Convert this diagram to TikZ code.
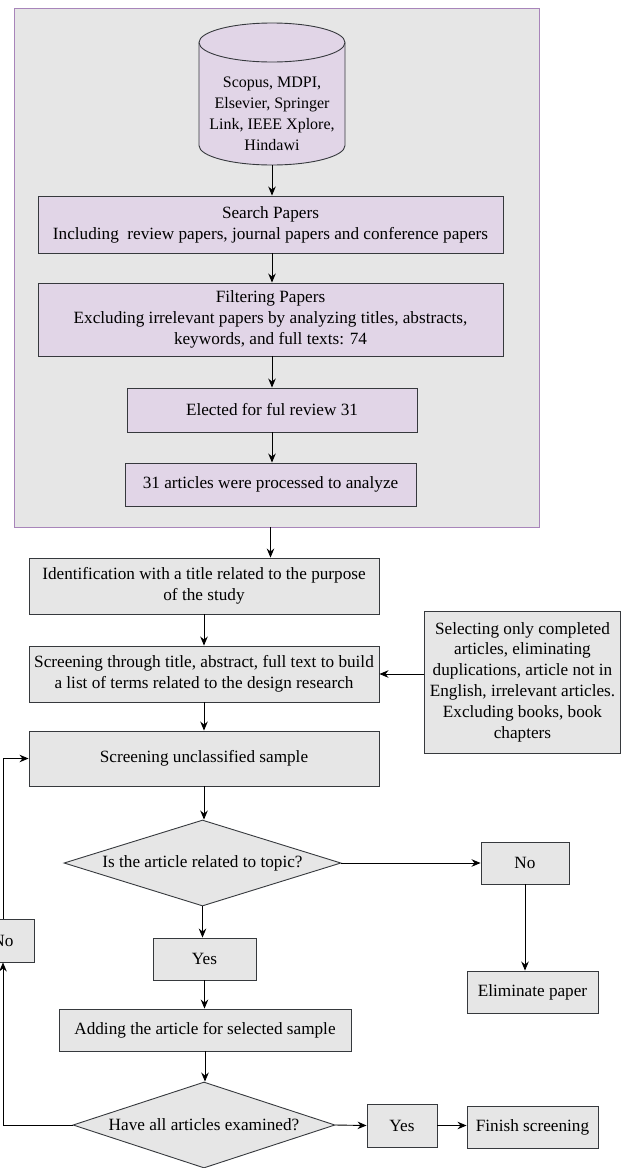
\documentclass[tikz,border=0pt]{standalone}
\usepackage{fontspec}
\setmainfont{Liberation Serif}
\usetikzlibrary{shapes.geometric,arrows.meta,calc}
\definecolor{purp}{HTML}{E1D5E7}
\definecolor{purpline}{HTML}{A885BA}
\definecolor{grayfill}{HTML}{E6E6E6}
\definecolor{boxline}{HTML}{36393D}
\tikzset{
  base/.style={draw=boxline, line width=0.9pt, align=center, inner sep=1pt, font=\fontsize{17.2}{21}\selectfont},
  pbox/.style={base, fill=purp, rectangle},
  gbox/.style={base, fill=grayfill, rectangle},
  dbox/.style={base, fill=grayfill, diamond, aspect=3.2, inner sep=0pt},
  arr/.style={draw=black, line width=0.9pt, -{Stealth[length=9pt,width=7.5pt]}}
}
\begin{document}
\begin{tikzpicture}[x=1pt,y=1pt]
\useasboundingbox (0,0) rectangle (621,-1168);
% outer group
\node[draw=purpline, fill=grayfill, line width=0.9pt, minimum width=525, minimum height=519, inner sep=0pt] (group) at (276.5,-267.5) {};
% cylinder
\fill[purp] (199,-42.5) -- (199,-145.5) arc[start angle=180, end angle=360, x radius=73pt, y radius=19.5pt] -- (345,-42.5) arc[start angle=0, end angle=180, x radius=73pt, y radius=19.5pt] -- cycle;
\draw[boxline, line width=0.9pt] (199,-42.5) -- (199,-145.5) arc[start angle=180, end angle=360, x radius=73pt, y radius=19.5pt] -- (345,-42.5) arc[start angle=0, end angle=180, x radius=73pt, y radius=19.5pt] -- cycle;
\draw[boxline, line width=0.9pt] (199,-42.5) arc[start angle=180, end angle=360, x radius=73pt, y radius=19.5pt];
\node[align=center, font=\fontsize{16}{21}\selectfont, inner sep=0pt] (cyl) at (272,-114) {Scopus, MDPI,\\Elsevier, Springer\\Link, IEEE Xplore,\\Hindawi};
\coordinate (cylbot) at (272,-165);
% purple boxes
\node[pbox, minimum width=465, minimum height=57] (search) at (270.5,-224.5) {Search Papers\\Including\ \ review papers, journal papers and conference papers};
\node[pbox, minimum width=465, minimum height=73] (filter) at (270.5,-319.5) {Filtering Papers\\Excluding irrelevant papers by analyzing titles, abstracts,\\keywords, and full texts: 74};
\node[pbox, minimum width=290, minimum height=44] (elected) at (272,-410) {Elected for ful review 31};
\node[pbox, minimum width=291, minimum height=43] (processed) at (270.5,-484.5) {31 articles were processed to analyze};
% gray boxes
\node[gbox, minimum width=350, minimum height=56] (ident) at (204,-586) {Identification with a title related to the purpose\\of the study};
\node[gbox, minimum width=350, minimum height=56] (screen1) at (204,-674) {Screening through title, abstract, full text to build\\a list of terms related to the design research};
\node[gbox, minimum width=196, minimum height=142, font=\fontsize{17.2}{20.8}\selectfont] (select) at (522.5,-682) {Selecting only completed\\articles, eliminating\\duplications, article not in\\English, irrelevant articles.\\Excluding books, book\\chapters};
\node[gbox, minimum width=350, minimum height=55] (screen2) at (204,-758.5) {Screening unclassified sample};
\node[dbox, minimum width=277, minimum height=86] (dia1) at (202.5,-863) {Is the article related to topic?};
\node[gbox, minimum width=88, minimum height=42] (no1) at (525,-863) {No};
\node[gbox, minimum width=131, minimum height=42] (elim) at (532.5,-992) {Eliminate paper};
\node[gbox, minimum width=103, minimum height=42] (yes1) at (204.5,-959) {Yes};
\node[gbox, minimum width=292, minimum height=42] (add) at (205,-1030) {Adding the article for selected sample};
\node[dbox, minimum width=262, minimum height=86] (dia2) at (204,-1125) {Have all articles examined?};
\node[gbox, minimum width=70, minimum height=43] (yes2) at (402,-1125.5) {Yes};
\node[gbox, minimum width=131, minimum height=42] (finish) at (532.5,-1127) {Finish screening};
\node[gbox, minimum width=62, minimum height=43] (no2) at (3,-940.5) {No};
% arrows
\draw[arr] (cylbot) -- (cylbot |- search.north);
\draw[arr] (cylbot |- search.south) -- (cylbot |- filter.north);
\draw[arr] (cylbot |- filter.south) -- (cylbot |- elected.north);
\draw[arr] (cylbot |- elected.south) -- (cylbot |- processed.north);
\draw[arr] (processed.south |- group.south) -- (processed.south |- ident.north);
\draw[arr] (ident.south) -- (screen1.north);
\draw[arr] (select.west |- screen1.east) -- (screen1.east);
\draw[arr] (screen1.south) -- (screen2.north);
\draw[arr] (screen2.south) -- (screen2.south |- dia1.north);
\draw[arr] (dia1.east) -- (no1.west);
\draw[arr] (no1.south) -- (no1.south |- elim.north);
\draw[arr] (dia1.south) -- (dia1.south |- yes1.north);
\draw[arr] (yes1.south) -- (yes1.south |- add.north);
\draw[arr] (add.south) -- (add.south |- dia2.north);
\draw[arr] (dia2.east) -- (yes2.west);
\draw[arr] (yes2.east) -- (yes2.east -| finish.west);
\draw[arr] (dia2.west) -| (no2.south);
\draw[arr] (no2.north) |- (screen2.west);
\end{tikzpicture}
\end{document}
